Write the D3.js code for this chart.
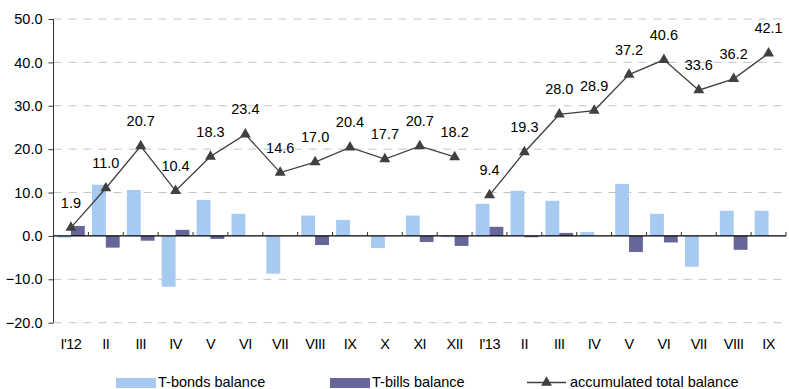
<!DOCTYPE html>
<html>
<head>
<meta charset="utf-8">
<script src="https://cdn.jsdelivr.net/npm/d3@7"></script>
<style>
  html, body { margin: 0; padding: 0; background: #fff; }
  svg { display: block; font-family: "Liberation Sans", Arial, sans-serif; }
</style>
</head>
<body>
<svg id="chart" width="789" height="389"></svg>
<script>
// Monthly categories, Jan 2012 – Sep 2013
const categories = ["I'12", "II", "III", "IV", "V", "VI", "VII", "VIII", "IX", "X", "XI", "XII",
                    "I'13", "II", "III", "IV", "V", "VI", "VII", "VIII", "IX"];

// Monthly balances
const bondsBalance = [-0.4, 11.8, 10.6, -11.7, 8.3, 5.1, -8.7, 4.7, 3.7, -2.8, 4.7, -0.3,
                      7.4, 10.4, 8.1, 0.9, 12.0, 5.1, -7.1, 5.8, 5.8];
const billsBalance = [2.3, -2.7, -1.1, 1.4, -0.7, 0.0, 0.0, -2.1, 0.0, 0.0, -1.4, -2.3,
                      2.1, -0.3, 0.7, 0.0, -3.7, -1.5, 0.0, -3.2, 0.0];

// Accumulated total balance (restarts each year)
const accumulated = [1.9, 11.0, 20.7, 10.4, 18.3, 23.4, 14.6, 17.0, 20.4, 17.7, 20.7, 18.2,
                     9.4, 19.3, 28.0, 28.9, 37.2, 40.6, 33.6, 36.2, 42.1];
const yearStart = [0, 12];

const yTicks = [-20, -10, 0, 10, 20, 30, 40, 50];
const seriesNames = ["T-bonds balance", "T-bills balance", "accumulated total balance"];

const colors = { bonds: "#A6CAF0", bills: "#666699", line: "#404040" };

const svg = d3.select("#chart");
const margin = { left: 53.5, right: 3, top: 19, bottom: 66 };
const W = 789, H = 389;

const x = d3.scaleBand()
  .domain(d3.range(categories.length))
  .range([margin.left, W - margin.right])
  .paddingInner(0).paddingOuter(0);

const y = d3.scaleLinear().domain([-20, 50]).range([322.7, 19]);

const inner = d3.scaleBand().domain(["bonds", "bills"])
  .range([0, x.bandwidth()]).paddingInner(0).paddingOuter(0.26);

// gridlines
svg.append("g")
  .selectAll("line")
  .data(yTicks.filter(d => d !== 0))
  .join("line")
  .attr("x1", margin.left).attr("x2", W - margin.right)
  .attr("y1", d => y(d)).attr("y2", d => y(d))
  .attr("stroke", "#c4c4c4").attr("stroke-width", 1)
  .attr("stroke-dasharray", "8,7");

// bars
const barG = svg.append("g");
const seriesList = [["bonds", bondsBalance], ["bills", billsBalance]];
seriesList.forEach(([key, vals]) => {
  barG.selectAll("rect." + key)
    .data(vals)
    .join("rect")
    .attr("class", key)
    .attr("x", (d, i) => x(i) + inner(key))
    .attr("width", inner.bandwidth())
    .attr("y", d => y(Math.max(0, d)))
    .attr("height", d => Math.abs(y(d) - y(0)))
    .attr("fill", colors[key]);
});

// y axis
const yAxis = svg.append("g")
  .attr("transform", `translate(${margin.left},0)`)
  .call(d3.axisLeft(y).tickValues(yTicks).tickFormat(d3.format(".1f")).tickSize(5).tickPadding(6));
yAxis.select(".domain").attr("stroke", "#333").attr("d", `M0,${y(-20)}V${y(50)}`);
yAxis.selectAll(".tick line").attr("stroke", "#333");
yAxis.selectAll("text").attr("font-size", 14.5).attr("fill", "#000")
  .attr("font-family", "Liberation Sans, Arial, sans-serif");

// zero axis with inward ticks at category boundaries
const zeroG = svg.append("g");
zeroG.append("line")
  .attr("x1", margin.left).attr("x2", W - margin.right)
  .attr("y1", y(0)).attr("y2", y(0))
  .attr("stroke", "#000").attr("stroke-width", 1.3);
const boundaries = d3.range(categories.length + 1).map(i =>
  i < categories.length ? x(i) : x(categories.length - 1) + x.bandwidth());
zeroG.selectAll("line.tk")
  .data(boundaries)
  .join("line")
  .attr("class", "tk")
  .attr("x1", d => d).attr("x2", d => d)
  .attr("y1", y(0)).attr("y2", y(0) - 4)
  .attr("stroke", "#333");

// category labels
svg.append("g")
  .selectAll("text")
  .data(categories)
  .join("text")
  .attr("x", (d, i) => x(i) + x.bandwidth() / 2)
  .attr("y", 349)
  .attr("text-anchor", "middle")
  .attr("font-size", 14.5)
  .attr("letter-spacing", "-0.5")
  .text(d => d);

// accumulated line, split by year
const segments = yearStart.map((s, k) => {
  const e = k + 1 < yearStart.length ? yearStart[k + 1] : accumulated.length;
  return d3.range(s, e);
});
const lineGen = d3.line()
  .x(i => x(i) + x.bandwidth() / 2)
  .y(i => y(accumulated[i]));
svg.append("g")
  .selectAll("path")
  .data(segments)
  .join("path")
  .attr("d", lineGen)
  .attr("fill", "none")
  .attr("stroke", colors.line)
  .attr("stroke-width", 1.3);

const tri = d3.symbol().type(d3.symbolTriangle).size(52);
svg.append("g")
  .selectAll("path")
  .data(accumulated)
  .join("path")
  .attr("d", tri)
  .attr("transform", (d, i) => `translate(${x(i) + x.bandwidth() / 2},${y(d)})`)
  .attr("fill", colors.line);

// value labels
svg.append("g")
  .selectAll("text")
  .data(accumulated)
  .join("text")
  .attr("x", (d, i) => x(i) + x.bandwidth() / 2)
  .attr("y", d => y(d) - 20)
  .attr("text-anchor", "middle")
  .attr("font-size", 14.5)
  .attr("fill", "#000")
  .text(d => d.toFixed(1));

// legend
const lg = svg.append("g");
lg.append("rect").attr("x", 116).attr("y", 378).attr("width", 40).attr("height", 10).attr("fill", colors.bonds);
lg.append("text").attr("x", 158).attr("y", 387).attr("font-size", 14.5).text(seriesNames[0]);
lg.append("rect").attr("x", 330).attr("y", 378).attr("width", 40).attr("height", 10).attr("fill", colors.bills);
lg.append("text").attr("x", 372).attr("y", 387).attr("font-size", 14.5).text(seriesNames[1]);
lg.append("line").attr("x1", 527).attr("x2", 566).attr("y1", 382.5).attr("y2", 382.5)
  .attr("stroke", colors.line).attr("stroke-width", 1.3);
lg.append("path").attr("d", tri).attr("transform", "translate(546.5,382.5)").attr("fill", colors.line);
lg.append("text").attr("x", 570).attr("y", 387).attr("font-size", 14.5).text(seriesNames[2]);
</script>
</body>
</html>
